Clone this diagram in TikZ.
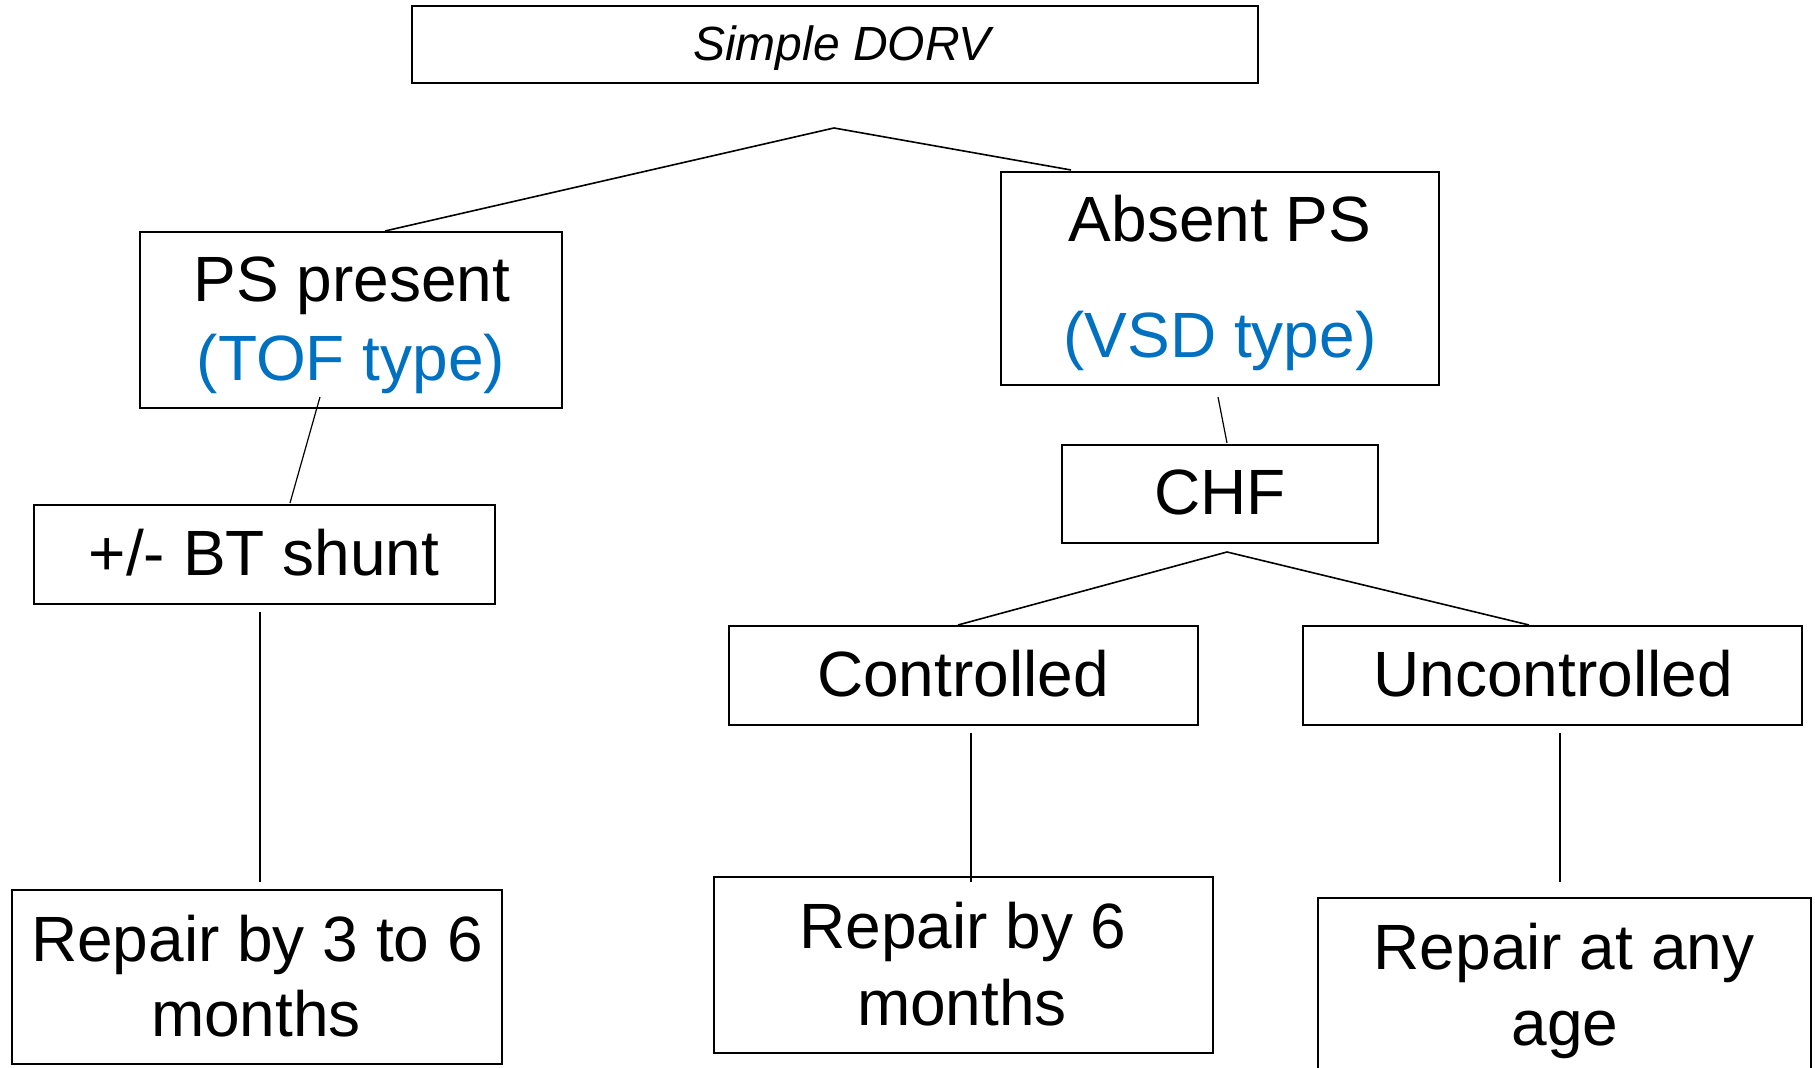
\documentclass[tikz,border=0pt]{standalone}
\usepackage{fontspec}
\setmainfont{Liberation Sans}
\definecolor{tblue}{HTML}{0070C0}
\begin{document}
\begin{tikzpicture}[x=0.5pt,y=-0.5pt,
  box/.style={draw, line width=1pt, inner sep=0pt, rectangle},
  lbl/.style={anchor=base, inner sep=0pt, font=\fontsize{32}{38}\selectfont},
  blbl/.style={lbl, text=tblue},
  conn/.style={line width=0.8pt},
  vconn/.style={line width=0.6pt}]
\useasboundingbox (0,0) rectangle (1815,1068);
\clip (0,0) rectangle (1815,1068);
\fill[white] (0,0) rectangle (1815,1068);
% boxes
\node[box, minimum width=423pt, minimum height=38.5pt] (dorv) at (835,44.5) {};
\node[box, minimum width=211pt, minimum height=88pt] (ps) at (351,320) {};
\node[box, minimum width=219pt, minimum height=106.5pt] (abs) at (1220,278.5) {};
\node[box, minimum width=158pt, minimum height=49pt] (chf) at (1220,494) {};
\node[box, minimum width=230.5pt, minimum height=49.5pt] (bt) at (264.5,554.5) {};
\node[box, minimum width=234.5pt, minimum height=49.5pt] (ctl) at (963.5,675.5) {};
\node[box, minimum width=249.5pt, minimum height=49.5pt] (unc) at (1552.5,675.5) {};
\node[box, minimum width=245pt, minimum height=87pt] (r36) at (257,977) {};
\node[box, minimum width=249.5pt, minimum height=88pt] (r6) at (963.5,965) {};
\node[box, minimum width=246.5pt, minimum height=91pt] (rany) at (1564.5,989) {};
% texts
\node[lbl, font=\fontsize{24}{28}\selectfont\itshape] (tdorv) at (842,61) {Simple DORV};
\node[lbl] (tps1) at (352,302) {PS present};
\node[blbl] (tps2) at (351,381) {(TOF type)};
\node[lbl] (tabs1) at (1220,242) {Absent PS};
\node[blbl] (tabs2) at (1220,358) {(VSD type)};
\node[lbl] (tchf) at (1220,515) {CHF};
\node[lbl] (tbt) at (264,576) {+/- BT shunt};
\node[lbl] (tctl) at (963,697) {Controlled};
\node[lbl] (tunc) at (1553,697) {Uncontrolled};
\node[lbl] (tr36a) at (257,961) {Repair by 3 to 6};
\node[lbl] (tr36b) at (256,1036) {months};
\node[lbl] (tr6a) at (963,948) {Repair by 6};
\node[lbl] (tr6b) at (962,1025) {months};
\node[lbl] (trany1) at (1564,969) {Repair at any};
\node[lbl] (trany2) at (1565,1045) {age};
% connector points
\coordinate (apex1) at ([shift={(-1,44)}]dorv.south);
\coordinate (apex2) at ([shift={(7,8)}]chf.south);
% connectors
\draw[conn] (apex1) -- ([shift={(34,0)}]ps.north);
\draw[conn] (apex1) -- ([shift={(-149,-1)}]abs.north);
\draw[vconn] ([shift={(-31,-12)}]ps.south) -- ([shift={(25.5,-1)}]bt.north);
\draw[vconn] ([shift={(-2,11)}]abs.south) -- ([shift={(7,-1)}]chf.north);
\draw[conn] (apex2) -- ([shift={(-5.5,0)}]ctl.north);
\draw[conn] (apex2) -- ([shift={(-23.5,0)}]unc.north);
\draw[vconn] ([shift={(-4.5,7)}]bt.south) -- ([shift={(3,-7)}]r36.north);
\draw[vconn] ([shift={(7.5,7)}]ctl.south) -- ([shift={(7.5,6)}]r6.north);
\draw[vconn] ([shift={(7.5,7)}]unc.south) -- ([shift={(-4.5,-15)}]rany.north);
\end{tikzpicture}
\end{document}
